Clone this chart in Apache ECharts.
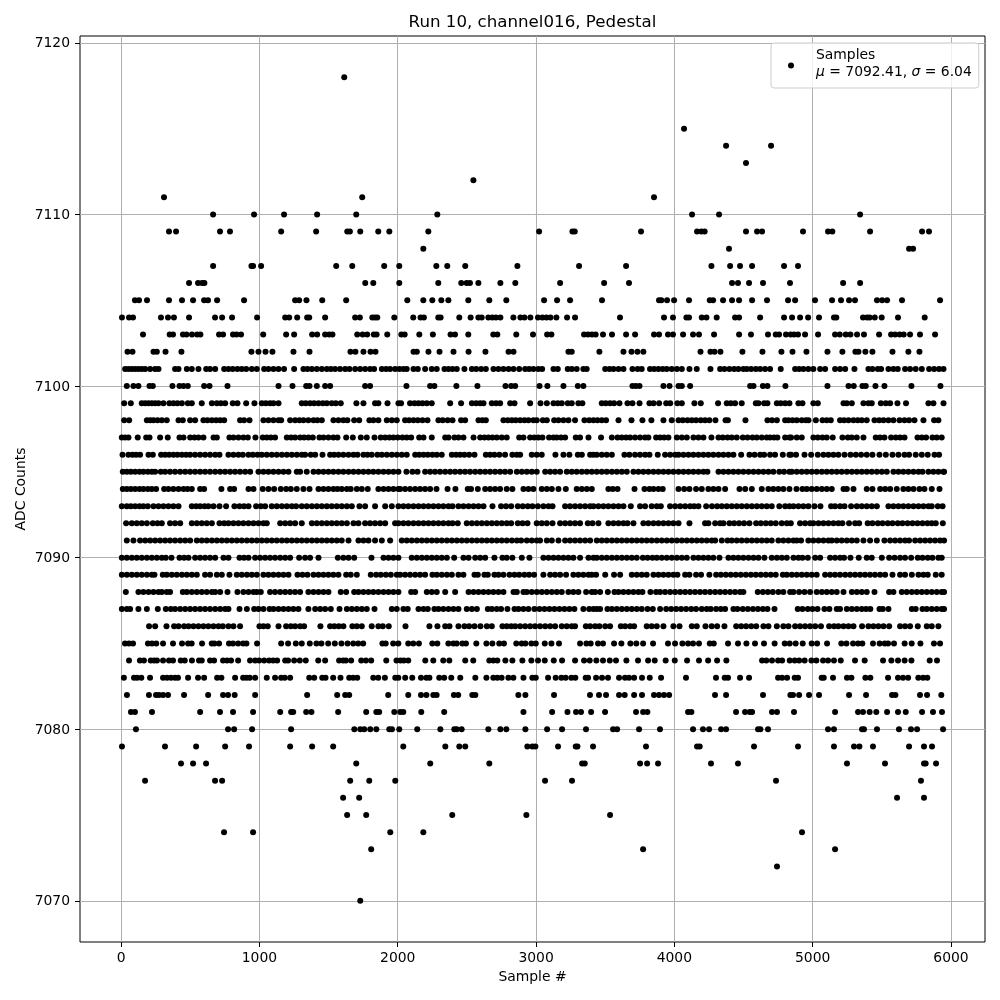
<!DOCTYPE html>
<html>
<head>
<meta charset="utf-8">
<title>Run 10, channel016, Pedestal</title>
<script src="https://cdn.jsdelivr.net/npm/echarts@6/dist/echarts.min.js"></script>
<style>
  html, body { margin: 0; padding: 0; background: #fff; }
  #chart { width: 1000px; height: 1000px; }
</style>
</head>
<body>
<div id="chart"></div>
<script>
// sample numbers, one list per ADC level
const at7118 = [1613]
const at7115 = [4070]
const at7114 = [4374, 4699]
const at7113 = [4518]
const at7112 = [2547]
const at7111 = [310, 1743, 3853]
const at7110 = [665, 961, 1178, 1417, 1700, 2286, 4128, 4323, 5343]
const at7109 = [346, 397, 715, 787, 1157, 1410, 1635, 1654, 1729, 1859, 1939, 2221, 3022, 3263, 3280, 3759, 4164, 4195, 4219, 4518, 4598, 4634, 4930, 5111, 5142, 5415, 5791, 5841]
const at7108 = [2185, 4395, 5697, 5726]
const at7107 = [665, 942, 954, 1012, 1555, 1671, 1902, 2011, 2279, 2358, 2488, 2865, 3311, 3651, 4268, 4403, 4475, 4562, 4793, 4894]
const at7106 = [491, 556, 585, 602, 1765, 1823, 2011, 2293, 2459, 2498, 2522, 2583, 2742, 2850, 3174, 3492, 3672, 4417, 4460, 4540, 4641, 4836, 5220, 5343]
const at7105 = [100, 129, 187, 346, 440, 520, 600, 628, 694, 889, 1258, 1287, 1340, 1454, 1627, 2069, 2185, 2250, 2315, 2366, 2510, 2662, 2785, 3058, 3152, 3246, 3477, 3889, 3906, 3947, 3998, 4106, 4256, 4280, 4352, 4417, 4468, 4562, 4670, 4822, 4873, 5017, 5140, 5205, 5263, 5306, 5465, 5502, 5538, 5646, 5921]
const at7104 = [6, 57, 86, 288, 339, 382, 491, 679, 730, 802, 983, 1186, 1215, 1273, 1345, 1360, 1475, 1692, 1726, 1816, 1835, 1852, 1975, 2112, 2165, 2189, 2293, 2310, 2445, 2527, 2583, 2607, 2655, 2684, 2710, 2742, 2836, 2887, 2916, 2959, 3014, 3046, 3075, 3104, 3147, 3224, 3282, 3607, 3925, 3990, 4087, 4106, 4198, 4232, 4306, 4439, 4468, 4620, 4793, 4851, 4909, 4967, 5046, 5154, 5171, 5364, 5393, 5412, 5449, 5499, 5617, 5810]
const at7103 = [158, 351, 375, 447, 472, 512, 549, 573, 708, 737, 809, 834, 867, 1027, 1193, 1251, 1381, 1417, 1475, 1504, 1528, 1707, 1746, 1779, 1827, 1847, 1924, 2026, 2050, 2156, 2254, 2382, 2414, 2510, 2691, 2720, 2857, 2978, 3080, 3111, 3347, 3376, 3405, 3431, 3484, 3549, 3651, 3716, 3853, 3889, 3954, 3990, 4063, 4135, 4178, 4287, 4468, 4554, 4677, 4733, 4757, 4807, 4841, 4865, 4894, 4945, 5039, 5162, 5196, 5239, 5273, 5321, 5371, 5480, 5567, 5596, 5629, 5658, 5704, 5776, 5885]
const at7102 = [46, 82, 234, 258, 321, 436, 942, 993, 1044, 1094, 1246, 1362, 1658, 1694, 1752, 1803, 1839, 2114, 2138, 2222, 2302, 2403, 2512, 2634, 2801, 2837, 3234, 3258, 3458, 3632, 3690, 3733, 3776, 4189, 4261, 4290, 4333, 4492, 4637, 4774, 4854, 4955, 5107, 5215, 5309, 5331, 5381, 5432, 5577, 5692, 5772]
const at7101 = [29, 53, 77, 101, 125, 149, 174, 210, 246, 270, 390, 415, 475, 511, 559, 615, 643, 680, 745, 776, 807, 841, 872, 904, 945, 981, 1034, 1065, 1101, 1138, 1178, 1251, 1318, 1347, 1379, 1415, 1451, 1487, 1516, 1547, 1583, 1620, 1651, 1692, 1728, 1764, 1800, 1829, 1885, 1916, 1945, 1981, 2012, 2041, 2065, 2114, 2145, 2198, 2246, 2282, 2338, 2367, 2396, 2427, 2482, 2536, 2567, 2603, 2637, 2692, 2728, 2764, 2801, 2837, 2878, 2921, 2950, 2981, 3017, 3044, 3126, 3157, 3229, 3258, 3294, 3342, 3366, 3500, 3531, 3560, 3596, 3632, 3697, 3735, 3764, 3824, 3854, 3885, 3916, 3945, 3981, 4018, 4054, 4109, 4162, 4261, 4331, 4362, 4398, 4432, 4463, 4499, 4524, 4555, 4589, 4620, 4656, 4692, 4769, 4873, 4902, 4933, 4969, 5005, 5054, 5090, 5162, 5198, 5235, 5302, 5403, 5432, 5471, 5495, 5548, 5584, 5615, 5668, 5704, 5745, 5789, 5842, 5878, 5914, 5946]
const at7100 = [41, 89, 125, 205, 229, 371, 422, 451, 482, 600, 639, 769, 1138, 1239, 1338, 1362, 1415, 1475, 1511, 1764, 1800, 2063, 2234, 2265, 2424, 2576, 2779, 2820, 2849, 3025, 3082, 3198, 3302, 3342, 3697, 3721, 3748, 3921, 3965, 4030, 4054, 4114, 4548, 4572, 4640, 4673, 4803, 5107, 5259, 5297, 5360, 5384, 5454, 5519, 5714, 5924]
const at7099 = [22, 70, 149, 174, 198, 222, 246, 270, 306, 349, 378, 407, 439, 482, 511, 583, 656, 692, 721, 752, 807, 841, 904, 964, 1017, 1046, 1077, 1101, 1138, 1306, 1335, 1366, 1395, 1427, 1458, 1487, 1523, 1552, 1588, 1701, 1752, 1836, 1860, 1926, 2005, 2024, 2089, 2121, 2150, 2179, 2210, 2246, 2379, 2458, 2536, 2567, 2596, 2620, 2680, 2711, 2740, 2813, 2844, 2957, 3032, 3078, 3126, 3157, 3186, 3229, 3258, 3306, 3335, 3475, 3504, 3535, 3564, 3603, 3661, 3697, 3748, 3820, 3849, 3890, 3941, 3970, 4022, 4054, 4145, 4191, 4316, 4379, 4408, 4439, 4487, 4589, 4608, 4649, 4673, 4741, 4769, 4801, 4832, 4897, 4926, 5005, 5037, 5223, 5247, 5283, 5367, 5403, 5427, 5493, 5529, 5560, 5613, 5675, 5837, 5873, 5946]
const at7098 = [22, 58, 186, 210, 234, 263, 294, 330, 415, 446, 499, 535, 595, 624, 656, 687, 716, 745, 860, 889, 928, 1029, 1065, 1101, 1138, 1157, 1222, 1258, 1289, 1318, 1354, 1391, 1419, 1451, 1535, 1571, 1607, 1636, 1685, 1721, 1795, 1824, 1860, 1921, 1957, 1993, 2053, 2082, 2114, 2145, 2179, 2215, 2294, 2325, 2361, 2396, 2458, 2487, 2584, 2612, 2637, 2764, 2796, 2825, 2853, 2885, 2916, 2945, 2981, 3005, 3049, 3078, 3131, 3162, 3198, 3234, 3282, 3350, 3384, 3415, 3444, 3475, 3506, 3596, 3690, 3769, 3834, 3921, 3981, 4030, 4061, 4095, 4126, 4157, 4191, 4222, 4253, 4297, 4370, 4387, 4514, 4673, 4706, 4741, 4801, 4825, 4854, 4885, 4921, 4951, 4970, 5023, 5071, 5102, 5131, 5198, 5227, 5259, 5295, 5326, 5355, 5391, 5447, 5481, 5512, 5548, 5584, 5628, 5664, 5697, 5736, 5801, 5878, 5909]
const at7097 = [5, 29, 53, 120, 181, 205, 282, 337, 422, 451, 499, 530, 559, 595, 668, 692, 783, 812, 848, 884, 916, 971, 1024, 1053, 1082, 1113, 1198, 1229, 1258, 1294, 1323, 1354, 1386, 1434, 1463, 1499, 1535, 1564, 1627, 1675, 1733, 1776, 1832, 1877, 1909, 1940, 1969, 2000, 2034, 2065, 2097, 2155, 2186, 2246, 2343, 2367, 2410, 2439, 2475, 2548, 2596, 2627, 2656, 2685, 2716, 2752, 2788, 2878, 2909, 2957, 2988, 3017, 3046, 3094, 3126, 3150, 3181, 3210, 3287, 3318, 3379, 3470, 3548, 3589, 3620, 3651, 3680, 3716, 3752, 3788, 3812, 3868, 3897, 3926, 3957, 4018, 4054, 4090, 4138, 4174, 4210, 4268, 4319, 4350, 4384, 4415, 4451, 4495, 4529, 4565, 4596, 4632, 4668, 4692, 4721, 4745, 4801, 4832, 4844, 4885, 4921, 5005, 5037, 5071, 5102, 5145, 5215, 5254, 5283, 5319, 5367, 5456, 5487, 5519, 5567, 5601, 5632, 5664, 5758, 5789, 5820, 5866, 5897, 5933]
const at7096 = [10, 53, 82, 108, 137, 198, 229, 289, 318, 347, 378, 407, 439, 470, 499, 535, 571, 607, 643, 680, 711, 776, 812, 848, 880, 921, 952, 986, 1017, 1053, 1089, 1125, 1162, 1198, 1234, 1270, 1306, 1330, 1371, 1403, 1456, 1511, 1540, 1571, 1607, 1644, 1680, 1709, 1752, 1781, 1812, 1853, 1885, 1921, 1957, 1993, 2029, 2065, 2126, 2155, 2186, 2217, 2251, 2282, 2318, 2391, 2422, 2451, 2482, 2516, 2555, 2637, 2668, 2699, 2735, 2776, 2829, 2861, 2885, 2969, 3005, 3041, 3140, 3198, 3241, 3302, 3331, 3391, 3415, 3439, 3475, 3511, 3548, 3639, 3675, 3716, 3752, 3788, 3820, 3880, 3933, 3970, 4006, 4030, 4066, 4102, 4138, 4174, 4210, 4246, 4282, 4319, 4355, 4391, 4427, 4483, 4543, 4580, 4620, 4649, 4692, 4728, 4784, 4832, 4844, 4880, 4941, 4989, 5037, 5078, 5114, 5150, 5186, 5230, 5273, 5312, 5350, 5391, 5432, 5483, 5529, 5577, 5620, 5664, 5697, 5745, 5789, 5832, 5881, 5914]
const at7095 = [12, 41, 70, 101, 133, 161, 193, 222, 246, 287, 318, 354, 390, 427, 463, 499, 535, 571, 607, 643, 680, 716, 752, 788, 824, 860, 897, 933, 993, 1029, 1065, 1101, 1138, 1174, 1210, 1270, 1294, 1342, 1391, 1427, 1463, 1499, 1535, 1571, 1607, 1644, 1680, 1716, 1752, 1788, 1824, 1860, 1897, 1933, 1969, 2005, 2063, 2106, 2143, 2198, 2234, 2270, 2306, 2343, 2379, 2415, 2451, 2487, 2523, 2560, 2596, 2632, 2668, 2704, 2740, 2776, 2813, 2861, 2897, 2933, 2969, 3005, 3066, 3102, 3138, 3174, 3222, 3258, 3294, 3331, 3367, 3403, 3439, 3475, 3511, 3548, 3584, 3620, 3656, 3704, 3740, 3776, 3812, 3849, 3885, 3921, 3957, 3993, 4030, 4066, 4102, 4138, 4174, 4210, 4239, 4319, 4355, 4391, 4427, 4463, 4499, 4536, 4572, 4608, 4644, 4680, 4716, 4759, 4793, 4832, 4849, 4885, 4921, 4957, 4993, 5029, 5066, 5102, 5138, 5174, 5210, 5247, 5283, 5319, 5355, 5391, 5427, 5464, 5500, 5536, 5584, 5620, 5656, 5692, 5729, 5765, 5794, 5837, 5873, 5909, 5946, 5950]
const at7094 = [12, 41, 70, 101, 133, 161, 193, 222, 253, 311, 342, 378, 415, 451, 480, 511, 571, 600, 725, 788, 817, 921, 957, 1024, 1065, 1106, 1154, 1193, 1227, 1270, 1318, 1362, 1427, 1463, 1499, 1535, 1564, 1595, 1632, 1660, 1704, 1740, 1783, 1860, 1897, 1933, 1969, 2005, 2017, 2053, 2089, 2126, 2162, 2198, 2234, 2280, 2360, 2417, 2506, 2530, 2579, 2632, 2668, 2704, 2740, 2788, 2829, 2909, 2945, 2981, 3041, 3078, 3114, 3162, 3215, 3294, 3331, 3367, 3403, 3523, 3554, 3589, 3712, 3784, 3820, 3849, 3885, 3916, 4030, 4071, 4109, 4157, 4198, 4246, 4282, 4319, 4367, 4471, 4512, 4560, 4632, 4680, 4716, 4752, 4788, 4832, 4883, 4926, 4957, 4993, 5029, 5066, 5102, 5138, 5223, 5247, 5295, 5391, 5432, 5488, 5524, 5560, 5608, 5656, 5692, 5729, 5772, 5808, 5861, 5917]
const at7093 = [5, 41, 70, 101, 133, 161, 193, 234, 270, 306, 342, 378, 415, 511, 542, 571, 603, 631, 668, 711, 759, 819, 856, 889, 921, 976, 1010, 1041, 1089, 1125, 1162, 1198, 1234, 1265, 1306, 1342, 1379, 1415, 1451, 1487, 1523, 1559, 1595, 1632, 1668, 1723, 1764, 1836, 1909, 1957, 2005, 2041, 2077, 2114, 2150, 2186, 2222, 2258, 2294, 2330, 2367, 2396, 2439, 2475, 2512, 2548, 2584, 2620, 2685, 2747, 2783, 2820, 2868, 2904, 2940, 2974, 3013, 3053, 3090, 3119, 3210, 3246, 3282, 3318, 3355, 3391, 3415, 3451, 3487, 3523, 3560, 3596, 3632, 3685, 3752, 3788, 3836, 3873, 3902, 3969, 4006, 4042, 4078, 4114, 4143, 4174, 4230, 4272, 4309, 4343, 4379, 4415, 4451, 4487, 4524, 4560, 4596, 4632, 4668, 4704, 4759, 4801, 4832, 4861, 4897, 4933, 4969, 5013, 5056, 5133, 5162, 5198, 5230, 5278, 5319, 5355, 5391, 5427, 5464, 5548, 5584, 5620, 5656, 5692, 5729, 5765, 5801, 5837, 5861, 5905, 5939]
const at7092 = [36, 77, 113, 149, 186, 229, 263, 294, 354, 390, 427, 511, 547, 583, 619, 656, 711, 745, 776, 812, 848, 884, 921, 957, 993, 1029, 1053, 1150, 1186, 1222, 1258, 1306, 1379, 1415, 1451, 1487, 1523, 1559, 1595, 1632, 1680, 1716, 1764, 1800, 1836, 1873, 1909, 1981, 2005, 2041, 2077, 2114, 2150, 2186, 2222, 2258, 2294, 2330, 2367, 2396, 2434, 2499, 2536, 2572, 2608, 2644, 2680, 2716, 2752, 2788, 2820, 2868, 2902, 2938, 3005, 3041, 3078, 3119, 3174, 3210, 3246, 3282, 3318, 3374, 3408, 3451, 3523, 3560, 3596, 3632, 3661, 3704, 3776, 3812, 3849, 3885, 3921, 3957, 3993, 4030, 4109, 4222, 4246, 4295, 4331, 4355, 4398, 4432, 4468, 4504, 4543, 4591, 4625, 4661, 4697, 4733, 4776, 4813, 4842, 4909, 4945, 4981, 5005, 5042, 5078, 5114, 5150, 5186, 5215, 5263, 5307, 5336, 5398, 5432, 5471, 5505, 5543, 5577, 5615, 5649, 5686, 5722, 5758, 5794, 5830, 5861, 5890, 5941]
const at7091 = [41, 89, 137, 174, 210, 246, 282, 318, 354, 390, 427, 463, 499, 547, 583, 619, 656, 692, 728, 764, 800, 836, 872, 909, 945, 981, 1017, 1053, 1089, 1125, 1162, 1198, 1234, 1270, 1306, 1342, 1379, 1415, 1451, 1487, 1523, 1559, 1595, 1644, 1716, 1752, 1788, 1836, 1885, 1945, 2029, 2065, 2101, 2138, 2174, 2210, 2246, 2282, 2318, 2355, 2391, 2427, 2463, 2499, 2536, 2572, 2608, 2644, 2680, 2716, 2752, 2788, 2825, 2861, 2892, 2933, 2969, 3005, 3029, 3078, 3114, 3162, 3210, 3246, 3282, 3318, 3355, 3391, 3439, 3475, 3511, 3548, 3584, 3620, 3656, 3692, 3728, 3764, 3800, 3836, 3873, 3909, 3945, 3981, 4018, 4054, 4090, 4126, 4162, 4198, 4234, 4270, 4295, 4343, 4384, 4415, 4451, 4487, 4524, 4560, 4596, 4632, 4668, 4704, 4752, 4788, 4825, 4861, 4885, 4916, 4969, 5005, 5042, 5078, 5114, 5138, 5174, 5210, 5247, 5283, 5319, 5367, 5415, 5464, 5519, 5560, 5596, 5632, 5668, 5697, 5741, 5777, 5813, 5849, 5885, 5921, 5950]
const at7090 = [5, 41, 77, 113, 149, 186, 222, 258, 294, 323, 364, 422, 455, 487, 535, 571, 607, 643, 680, 740, 776, 856, 889, 921, 969, 1005, 1041, 1077, 1113, 1150, 1186, 1222, 1287, 1330, 1366, 1427, 1567, 1607, 1644, 1685, 1810, 1897, 1933, 1969, 2005, 2101, 2138, 2174, 2210, 2246, 2282, 2318, 2355, 2408, 2475, 2512, 2560, 2596, 2632, 2699, 2757, 2788, 2829, 2897, 2952, 3053, 3090, 3126, 3162, 3198, 3234, 3270, 3318, 3379, 3415, 3439, 3475, 3511, 3548, 3584, 3620, 3656, 3692, 3728, 3772, 3806, 3842, 3873, 3909, 3945, 3981, 4018, 4054, 4090, 4138, 4174, 4210, 4246, 4282, 4326, 4391, 4427, 4463, 4499, 4536, 4572, 4608, 4651, 4704, 4741, 4777, 4813, 4861, 4897, 4926, 4965, 5018, 5054, 5126, 5162, 5198, 5227, 5273, 5333, 5391, 5427, 5500, 5553, 5592, 5632, 5668, 5712, 5760, 5794, 5832, 5866, 5909, 5933]
const at7089 = [5, 41, 77, 113, 149, 186, 222, 241, 301, 330, 366, 402, 439, 475, 511, 547, 607, 643, 692, 728, 783, 836, 872, 909, 945, 981, 1029, 1065, 1101, 1138, 1174, 1210, 1275, 1311, 1347, 1391, 1427, 1463, 1499, 1535, 1571, 1627, 1660, 1704, 1805, 1844, 1877, 1914, 1950, 1993, 2017, 2053, 2089, 2126, 2162, 2198, 2251, 2282, 2318, 2355, 2391, 2439, 2475, 2555, 2579, 2627, 2651, 2699, 2728, 2764, 2808, 2844, 2878, 2916, 2950, 2986, 3053, 3102, 3138, 3174, 3217, 3270, 3306, 3342, 3379, 3403, 3434, 3500, 3564, 3608, 3692, 3728, 3764, 3800, 3849, 3885, 3921, 3957, 3993, 4022, 4078, 4109, 4157, 4193, 4253, 4302, 4336, 4372, 4408, 4444, 4480, 4517, 4553, 4589, 4625, 4661, 4697, 4733, 4784, 4813, 4849, 4885, 4921, 4957, 4993, 5029, 5090, 5126, 5162, 5198, 5235, 5271, 5307, 5343, 5379, 5415, 5451, 5488, 5524, 5577, 5632, 5668, 5717, 5765, 5801, 5832, 5890, 5933]
const at7088 = [34, 125, 161, 198, 234, 270, 294, 330, 354, 446, 475, 511, 547, 583, 619, 656, 680, 716, 769, 841, 884, 921, 957, 981, 1010, 1077, 1113, 1150, 1186, 1222, 1258, 1294, 1354, 1391, 1427, 1463, 1499, 1588, 1627, 1685, 1716, 1752, 1788, 1824, 1860, 1897, 1933, 1969, 2005, 2097, 2126, 2210, 2246, 2282, 2343, 2415, 2512, 2548, 2584, 2620, 2656, 2692, 2728, 2764, 2837, 2861, 2909, 2933, 2969, 3005, 3041, 3078, 3114, 3150, 3186, 3234, 3270, 3306, 3362, 3403, 3427, 3463, 3519, 3567, 3596, 3632, 3668, 3704, 3740, 3769, 3827, 3868, 3897, 3933, 3970, 4006, 4042, 4078, 4114, 4150, 4186, 4222, 4258, 4295, 4331, 4367, 4403, 4439, 4475, 4499, 4603, 4640, 4676, 4712, 4752, 4788, 4837, 4861, 4902, 4941, 4981, 5029, 5066, 5102, 5138, 5174, 5223, 5283, 5319, 5355, 5391, 5447, 5553, 5584, 5644, 5680, 5717, 5753, 5789, 5825, 5861, 5897, 5933, 5950]
const at7087 = [5, 41, 65, 125, 186, 265, 323, 359, 390, 427, 463, 499, 535, 571, 607, 643, 680, 716, 752, 776, 856, 909, 962, 993, 1029, 1073, 1101, 1138, 1174, 1210, 1246, 1282, 1354, 1403, 1439, 1475, 1516, 1579, 1632, 1668, 1704, 1740, 1776, 1832, 1957, 1993, 2041, 2072, 2150, 2186, 2217, 2265, 2294, 2330, 2367, 2403, 2439, 2499, 2536, 2572, 2651, 2680, 2716, 2747, 2793, 2844, 2873, 2909, 2945, 2988, 3025, 3061, 3097, 3133, 3169, 3205, 3241, 3277, 3342, 3384, 3415, 3439, 3463, 3516, 3548, 3584, 3620, 3656, 3692, 3728, 3764, 3806, 3844, 3897, 3941, 3977, 4013, 4049, 4085, 4122, 4157, 4198, 4234, 4263, 4302, 4336, 4367, 4427, 4456, 4495, 4531, 4568, 4604, 4640, 4673, 4724, 4892, 4926, 4965, 4999, 5035, 5085, 5121, 5174, 5198, 5247, 5283, 5319, 5355, 5386, 5417, 5483, 5507, 5548, 5717, 5745, 5794, 5825, 5861, 5897, 5933, 5950]
const at7086 = [202, 246, 328, 383, 415, 455, 487, 523, 559, 595, 631, 668, 704, 735, 776, 812, 860, 1000, 1029, 1060, 1138, 1193, 1227, 1258, 1294, 1323, 1441, 1511, 1542, 1574, 1607, 1672, 1704, 1740, 1812, 1860, 1892, 1935, 2056, 2229, 2287, 2343, 2374, 2439, 2482, 2516, 2555, 2598, 2644, 2680, 2757, 2788, 2820, 2849, 2885, 2921, 2957, 2993, 3029, 3066, 3102, 3138, 3186, 3222, 3258, 3282, 3360, 3391, 3427, 3458, 3500, 3535, 3613, 3644, 3680, 3709, 3800, 3836, 3873, 3921, 3993, 4037, 4126, 4162, 4225, 4270, 4309, 4362, 4447, 4483, 4519, 4556, 4592, 4644, 4680, 4741, 4788, 4825, 4873, 4909, 4945, 4981, 5018, 5060, 5119, 5155, 5186, 5223, 5259, 5295, 5357, 5403, 5439, 5475, 5512, 5553, 5632, 5668, 5704, 5760, 5825, 5861, 5909]
const at7085 = [28, 57, 86, 194, 223, 254, 303, 375, 440, 484, 510, 585, 655, 674, 708, 780, 809, 846, 882, 906, 983, 1157, 1207, 1263, 1306, 1364, 1412, 1448, 1497, 1545, 1593, 1637, 1678, 1714, 1750, 1889, 1913, 1967, 2004, 2076, 2112, 2153, 2250, 2286, 2366, 2402, 2426, 2467, 2493, 2568, 2641, 2684, 2734, 2768, 2857, 2896, 2923, 2966, 2998, 3063, 3111, 3166, 3318, 3364, 3395, 3448, 3484, 3564, 3617, 3682, 3725, 3774, 3846, 3954, 4005, 4058, 4099, 4135, 4178, 4256, 4285, 4388, 4460, 4521, 4583, 4648, 4725, 4798, 4834, 4877, 4928, 4993, 5032, 5104, 5207, 5244, 5292, 5328, 5359, 5436, 5484, 5521, 5545, 5588, 5665, 5716, 5779, 5877, 5921]
const at7084 = [57, 136, 165, 214, 238, 259, 303, 346, 375, 431, 460, 512, 563, 583, 643, 672, 737, 766, 795, 846, 932, 969, 998, 1034, 1070, 1099, 1128, 1186, 1207, 1251, 1292, 1335, 1425, 1475, 1576, 1605, 1625, 1663, 1736, 1770, 1808, 1917, 1991, 2020, 2044, 2076, 2199, 2257, 2329, 2373, 2488, 2546, 2662, 2691, 2720, 2778, 2829, 2901, 2966, 3014, 3063, 3128, 3188, 3282, 3347, 3388, 3436, 3484, 3533, 3578, 3653, 3737, 3810, 3858, 3937, 4003, 4092, 4178, 4244, 4309, 4376, 4634, 4665, 4706, 4750, 4779, 4834, 4870, 4902, 4942, 4991, 5027, 5075, 5111, 5154, 5203, 5306, 5376, 5509, 5569, 5617, 5665, 5714, 5846, 5899]
const at7083 = [20, 93, 115, 146, 209, 303, 332, 361, 390, 411, 484, 556, 600, 694, 725, 824, 882, 906, 930, 969, 1053, 1113, 1157, 1183, 1222, 1360, 1396, 1454, 1478, 1533, 1586, 1649, 1678, 1707, 1823, 1859, 1907, 1982, 2004, 2054, 2105, 2168, 2207, 2229, 2300, 2336, 2387, 2452, 2561, 2641, 2691, 2720, 2751, 2800, 2836, 2909, 2973, 2998, 3087, 3142, 3183, 3214, 3255, 3284, 3359, 3376, 3434, 3477, 3520, 3600, 3643, 3672, 3709, 3766, 3822, 3904, 4084, 4301, 4364, 4388, 4475, 4540, 4750, 4779, 4815, 4870, 4894, 5065, 5080, 5147, 5248, 5280, 5381, 5417, 5545, 5617, 5653, 5690, 5764, 5798, 5829]
const at7082 = [42, 201, 252, 274, 303, 339, 455, 629, 737, 773, 821, 969, 1345, 1562, 1620, 1649, 1931, 2076, 2168, 2207, 2257, 2281, 2406, 2437, 2539, 2561, 2872, 2923, 3130, 3390, 3455, 3506, 3600, 3641, 3709, 3766, 3853, 3889, 3925, 3962, 4294, 4374, 4641, 4839, 4858, 4902, 4974, 5046, 5263, 5386, 5574, 5598, 5776, 5827, 5930]
const at7081 = [71, 100, 223, 571, 715, 809, 954, 1150, 1229, 1244, 1338, 1376, 1569, 1772, 1845, 1866, 1975, 2018, 2040, 2170, 2336, 2909, 3116, 3227, 3289, 3325, 3398, 3499, 3723, 3774, 3805, 4099, 4123, 4446, 4511, 4545, 4562, 4706, 4742, 4865, 5162, 5328, 5364, 5412, 5460, 5538, 5617, 5673, 5791, 5870, 5935]
const at7080 = [107, 773, 817, 947, 1229, 1686, 1729, 1758, 1801, 1845, 1939, 1958, 2011, 2141, 2308, 2409, 2426, 2462, 2655, 2742, 2785, 2923, 3080, 3188, 3361, 3557, 3586, 3745, 3896, 4135, 4207, 4251, 4338, 4374, 4605, 4622, 4677, 5111, 5154, 5357, 5371, 5465, 5624, 5711, 5755, 5943]
const at7079 = [6, 317, 542, 752, 925, 1222, 1381, 1533, 2040, 2344, 2445, 2488, 2937, 2973, 2995, 3159, 3287, 3299, 3412, 3795, 4164, 4183, 4576, 4894, 5154, 5299, 5338, 5436, 5697, 5805, 5863]
const at7078 = [433, 520, 614, 1700, 2235, 2662, 3333, 3352, 3752, 3803, 3882, 4265, 4460, 5248, 5523, 5805, 5817, 5892]
const at7077 = [173, 679, 730, 1656, 1794, 1982, 3065, 3260, 4735, 5783]
const at7076 = [1605, 1721, 5610, 5805]
const at7075 = [1634, 1772, 2394, 2930, 3535]
const at7074 = [744, 954, 1946, 2185, 4923]
const at7073 = [1808, 3774, 5162]
const at7072 = [4742]
const at7070 = [1729]

const adcLevels = [
  [7118, at7118], [7115, at7115], [7114, at7114], [7113, at7113], [7112, at7112], [7111, at7111],
  [7110, at7110], [7109, at7109], [7108, at7108], [7107, at7107], [7106, at7106], [7105, at7105],
  [7104, at7104], [7103, at7103], [7102, at7102], [7101, at7101], [7100, at7100], [7099, at7099],
  [7098, at7098], [7097, at7097], [7096, at7096], [7095, at7095], [7094, at7094], [7093, at7093],
  [7092, at7092], [7091, at7091], [7090, at7090], [7089, at7089], [7088, at7088], [7087, at7087],
  [7086, at7086], [7085, at7085], [7084, at7084], [7083, at7083], [7082, at7082], [7081, at7081],
  [7080, at7080], [7079, at7079], [7078, at7078], [7077, at7077], [7076, at7076], [7075, at7075],
  [7074, at7074], [7073, at7073], [7072, at7072], [7070, at7070]
]

const xTicks = [0, 1000, 2000, 3000, 4000, 5000, 6000]
const yTicks = [7070, 7080, 7090, 7100, 7110, 7120]

const font = '"DejaVu Sans", sans-serif'
const points = adcLevels.flatMap(([level, samples]) => samples.map(s => [s, level]))

const axisCommon = {
  axisLine: { show: false, onZero: false },
  axisTick: { show: true, length: 5, lineStyle: { color: '#000', width: 1 } },
  splitLine: { show: true, lineStyle: { color: '#b0b0b0', width: 1 } },
  nameLocation: 'middle',
  nameMoveOverlap: false,
  nameTextStyle: { color: '#000', fontFamily: font, fontSize: 13.9 }
}
const labelCommon = { color: '#000', fontFamily: font, fontSize: 13.9 }

const chart = echarts.init(document.getElementById('chart'), null, { renderer: 'canvas' })
chart.setOption({
  animation: false,
  backgroundColor: '#fff',
  title: {
    text: 'Run 10, channel016, Pedestal',
    left: 527.5,
    top: 9,
    textAlign: 'center',
    textStyle: { color: '#000', fontFamily: font, fontSize: 16.67, fontWeight: 'normal' }
  },
  grid: { left: 80, right: 15, top: 36, bottom: 58, show: true, borderColor: '#000', borderWidth: 1, outerBoundsMode: 'none' },
  xAxis: {
    ...axisCommon,
    type: 'value',
    name: 'Sample #',
    nameGap: 28,
    min: -297.4,
    max: 6246,
    axisTick: { ...axisCommon.axisTick, customValues: xTicks },
    axisLabel: { ...labelCommon, margin: 9, customValues: xTicks, formatter: v => String(v) }
  },
  yAxis: {
    ...axisCommon,
    type: 'value',
    name: 'ADC Counts',
    nameGap: 52,
    min: 7067.6,
    max: 7120.4,
    axisTick: { ...axisCommon.axisTick, customValues: yTicks },
    axisLabel: {
      ...labelCommon,
      margin: 10,
      customValues: yTicks,
      formatter: v => '{a|' + v + '}',
      rich: { a: { color: '#000', fontFamily: font, fontSize: 13.9, padding: [2, 0, 0, 0] } }
    }
  },
  legend: {
    left: 771,
    top: 43,
    padding: [5, 7, 5, 17],
    orient: 'vertical',
    selectedMode: false,
    itemWidth: 40,
    itemHeight: 6,
    backgroundColor: 'rgba(255,255,255,0.8)',
    borderColor: '#ccc',
    borderWidth: 1,
    borderRadius: 3,
    data: [{ name: 'Samples', icon: 'circle' }],
    formatter: () => '{t|Samples}\n{i|μ}{t| = 7092.41, }{i|σ}{t| = 6.04}\n{s| }',
    textStyle: {
      color: '#000',
      fontFamily: font,
      fontSize: 13.9,
      rich: {
        t: { color: '#000', fontFamily: font, fontSize: 13.9, lineHeight: 17 },
        i: { color: '#000', fontFamily: font, fontSize: 13.9, lineHeight: 17, fontStyle: 'italic' },
        s: { fontSize: 1, lineHeight: 4 }
      }
    }
  },
  series: [{
    name: 'Samples',
    type: 'scatter',
    symbol: 'circle',
    symbolSize: 6,
    itemStyle: { color: '#000', opacity: 1 },
    progressive: 0,
    silent: true,
    data: points
  }]
})
</script>
</body>
</html>
